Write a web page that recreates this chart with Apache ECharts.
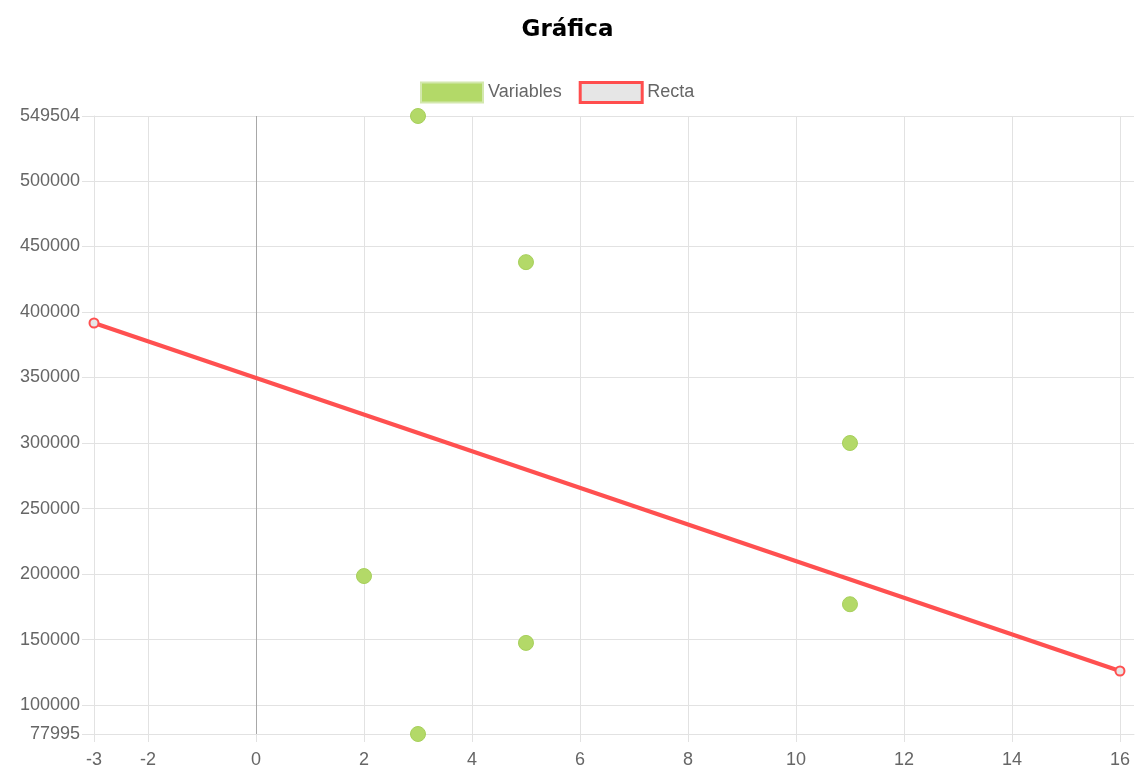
<!DOCTYPE html>
<html>
<head>
<meta charset="utf-8">
<script src="https://cdn.jsdelivr.net/npm/echarts@6/dist/echarts.min.js"></script>
<style>
  html, body { margin: 0; padding: 0; background: #fff; }
  #chart { width: 1135px; height: 783px; }
</style>
</head>
<body>
<div id="chart"></div>
<script>
// scatter points
const pointX = [3, 5, 11, 2, 11, 5, 3];
const pointY = [549504, 438000, 300000, 198500, 177000, 147500, 77995];
// straight line endpoints
const lineX = [-3, 16];
const lineY = [391573, 126066];
// axis ticks
const xTicks = [-3, -2, 0, 2, 4, 6, 8, 10, 12, 14, 16];
const yTicks = [77995, 100000, 150000, 200000, 250000, 300000, 350000, 400000, 450000, 500000, 549504];

const chart = echarts.init(document.getElementById('chart'));
const grey = '#666';
const gridColor = '#e2e2e2';

const option = {
  animation: false,
  title: {
    text: 'Gráfica',
    left: 'center',
    top: 14,
    textStyle: { fontFamily: 'DejaVu Sans', fontWeight: 'bold', fontSize: 23, color: '#000' }
  },
  legend: {
    top: 76,
    left: 415,
    itemWidth: 62,
    itemHeight: 20,
    itemGap: 17,
    textStyle: { fontFamily: 'Liberation Sans', fontSize: 18, color: grey },
    data: [
      { name: 'Variables', icon: 'rect', itemStyle: { color: '#b3d968', borderColor: '#d3e8ae', borderWidth: 2 } },
      { name: 'Recta', icon: 'rect', itemStyle: { color: '#e6e6e6', borderColor: '#ff4d4d', borderWidth: 3 } }
    ]
  },
  grid: { left: 94, right: 1, top: 116, bottom: 49, containLabel: false },
  xAxis: {
    type: 'value',
    min: -3,
    max: 16.26,
    axisLine: { show: true, onZero: false, lineStyle: { color: gridColor } },
    axisTick: { show: true, length: 8, customValues: xTicks, lineStyle: { color: gridColor } },
    axisLabel: {
      customValues: xTicks,
      margin: 17,
      fontFamily: 'Liberation Sans',
      fontSize: 18,
      color: grey
    },
    splitLine: {
      show: true,
      lineStyle: {
        color: xTicks.map(v => (v === 0 ? '#a8a8a8' : gridColor)),
        width: 1
      }
    }
  },
  yAxis: {
    type: 'value',
    min: 77995,
    max: 549504,
    axisLine: { show: true, onZero: false, lineStyle: { color: gridColor } },
    axisTick: { show: true, length: 12, customValues: yTicks, lineStyle: { color: gridColor } },
    axisLabel: {
      customValues: yTicks,
      formatter: v => String(v),
      margin: 14,
      fontFamily: 'Liberation Sans',
      fontSize: 18,
      color: grey
    },
    splitLine: { show: true, lineStyle: { color: gridColor, width: 1 } }
  },
  series: [
    {
      name: 'Variables',
      type: 'scatter',
      symbolSize: 15,
      itemStyle: { color: '#b3d968', borderColor: '#a6cf5a', borderWidth: 1, opacity: 1 },
      data: pointX.map((x, i) => [x, pointY[i]]),
      z: 3
    },
    {
      name: 'Recta',
      type: 'line',
      symbol: 'circle',
      symbolSize: 9,
      showSymbol: true,
      itemStyle: { color: '#e6e6e6', borderColor: '#ff5050', borderWidth: 2 },
      lineStyle: { color: '#ff5050', width: 4 },
      data: lineX.map((x, i) => [x, lineY[i]]),
      z: 4
    }
  ]
};

chart.setOption(option);
</script>
</body>
</html>
